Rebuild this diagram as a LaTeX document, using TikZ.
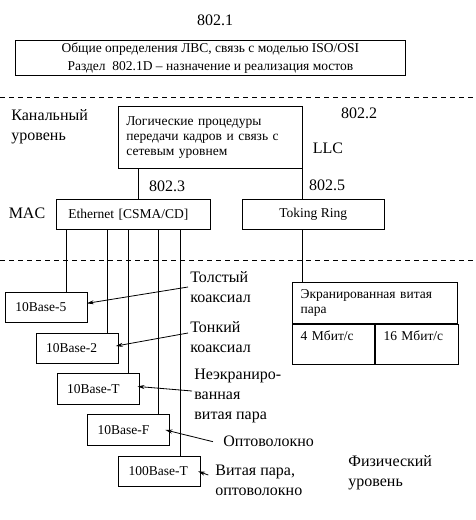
\documentclass[tikz,border=0pt]{standalone}
\usepackage{fontspec}
\setmainfont{Liberation Serif}
\usetikzlibrary{arrows.meta}
\tikzset{
  lbl/.style={font=\fontsize{16}{20}\selectfont, inner sep=0pt},
  box/.style={draw, inner sep=0pt, font=\fontsize{13.5}{15}\selectfont},
  basebox/.style={box, anchor=north west, minimum height=30.5pt, text width=62pt, inner xsep=10pt, align=left},
  cell/.style={box, anchor=north west, inner xsep=8pt, inner ysep=4pt, text height=13pt, text depth=19.6pt, align=left},
  layersep/.style={dash pattern=on 5pt off 4pt},
  pointer/.style={-{Stealth[length=7pt,width=4pt]}}
}
\begin{document}
\begin{tikzpicture}[x=1pt, y=-1pt, line width=0.8pt]
  \useasboundingbox (0,0) rectangle (475,520);
  % 802.1
  \node[lbl] (n8021) at (215,20) {802.1};
  \node[box, anchor=north west, minimum width=390pt, minimum height=35pt, align=center, font=\fontsize{13.5}{18}\selectfont] (DEF) at (15,40)
    {Общие определения ЛВС, связь с моделью ISO/OSI\\Раздел~ 802.1D – назначение и реализация мостов};
  \draw[layersep] (0,97) -- (475,97);
  % data link layer
  \node[lbl, anchor=west, align=left] (kanal) at (11,126.7) {Канальный\\уровень};
  \node[box, anchor=north west, minimum height=62pt, text width=168pt, inner xsep=8pt, align=left] (LLC) at (118,106)
    {Логические процедуры\\передачи кадров и связь с\\сетевым уровнем};
  \node[lbl] (n8022) at (359,113) {802.2};
  \node[lbl] (llc) at (328,148) {LLC};
  \node[lbl] (n8023) at (167,186) {802.3};
  \node[lbl] (n8025) at (327,185) {802.5};
  \node[lbl] (mac) at (27,213) {MAC};
  \node[box, anchor=north west, minimum height=30pt, text width=130pt, inner xsep=12pt, align=left] (ETH) at (56,199) {Ethernet [CSMA/CD]};
  \node[box, anchor=north west, minimum width=142.3pt, minimum height=30pt] (TR) at (241.7,199) {Toking Ring};
  \draw ([xshift=20pt]LLC.south west) -- ([xshift=82pt]ETH.north west);
  \draw (LLC.south east) -- (LLC.south east |- TR.north);
  \draw[layersep] (0,260.7) -- (475,260.7);
  % physical layer
  \node[basebox] (B5) at (5,291.7) {10Base-5};
  \node[basebox] (B2) at (35.7,332.7) {10Base-2};
  \node[basebox] (BT) at (56.7,373.3) {10Base-T};
  \node[basebox] (BF) at (87.3,414.3) {10Base-F};
  \node[basebox] (BTT) at (118.3,455.7) {100Base-T};
  \foreach \dx/\b in {10.7/B5, 51.3/B2, 72.7/BT, 102.7/BF, 124/BTT}
    \draw ([xshift=\dx pt]ETH.south west) coordinate (top) -- (top |- \b.north);
  \node[box, anchor=north west, minimum height=41pt, text width=148.4pt, inner xsep=8pt, align=left] (STP) at (292.3,281.7)
    {Экранированная витая\\пара};
  \node[cell, text width=66pt] (R4) at (STP.south west) {4 Мбит/с};
  \node[cell, text width=66.4pt] (R16) at (R4.north east) {16 Мбит/с};
  \draw (TR.south -| LLC.south east) -- (STP.north -| LLC.south east);
  % media
  \node[lbl, anchor=west, align=left] (thick) at (190,287) {Толстый\\коаксиал};
  \node[lbl, anchor=west, align=left] (thin) at (190,337.5) {Тонкий\\коаксиал};
  \node[lbl, anchor=west, align=left] (utp) at (194,396) {Неэкраниро-\\ванная\\витая пара};
  \node[lbl, anchor=west] (fiber) at (223,441.7) {Оптоволокно};
  \node[lbl, anchor=west, align=left] (twisted) at (215,480) {Витая пара,\\оптоволокно};
  \node[lbl, anchor=west, align=left] (phys) at (348,473) {Физический\\уровень};
  \draw[pointer] ([xshift=-2pt]thick.west) -- ([shift={(-1pt,4pt)}]B5.east);
  \draw[pointer] ([shift={(-2pt,4.5pt)}]thin.west) -- ([shift={(-2.7pt,2.3pt)}]B2.east);
  \draw[pointer] ([shift={(-2pt,5pt)}]utp.west) -- ([shift={(-2pt,2.5pt)}]BT.east);
  \draw[pointer] ([xshift=-10pt]fiber.west) -- ([xshift=-4.7pt]BF.east);
  \draw[pointer] ([shift={(-6.7pt,5pt)}]twisted.west) -- ([xshift=-3pt]BTT.east);
\end{tikzpicture}
\end{document}
